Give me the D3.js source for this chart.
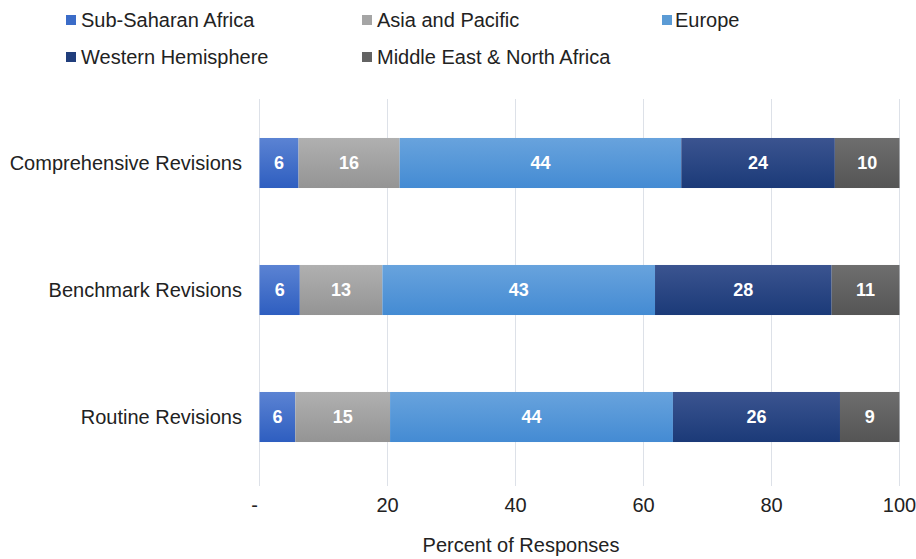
<!DOCTYPE html>
<html><head><meta charset="utf-8">
<script src="https://cdn.jsdelivr.net/npm/d3@7"></script>
<style>body{margin:0;background:#fff;}svg{display:block;font-family:"Liberation Sans",Arial,sans-serif;}</style>
</head><body><svg id="c" width="916" height="559"></svg>
<script>
const categories = ["Comprehensive Revisions","Benchmark Revisions","Routine Revisions"];
const seriesNames = ["Sub-Saharan Africa","Asia and Pacific","Europe","Western Hemisphere","Middle East & North Africa"];
const subSaharan = [6.1, 6.3, 5.6];
const asiaPacific = [15.8, 12.9, 14.8];
const europe = [44.0, 42.6, 44.2];
const westernHem = [24.0, 27.6, 26.1];
const mena = [10.1, 10.6, 9.3];
const xTicks = [0,20,40,60,80,100];
const xTickLabels = ["-","20","40","60","80","100"];
const colors = [["#5b83d3","#2e5ec0"],["#b0b0b0","#949494"],["#68a3dd","#448bd3"],["#3b5490","#1b3a78"],["#6e6e6e","#555555"]];
const legendColors = ["#3b6cc8","#a5a5a5","#5b9bd5","#213e7c","#636363"];

const seriesVals = [subSaharan, asiaPacific, europe, westernHem, mena];
const data = categories.map((c,i)=>{const o={cat:c}; seriesNames.forEach((s,j)=>o[s]=seriesVals[j][i]); return o;});

const svg = d3.select("#c");
const defs = svg.append("defs");
colors.forEach((c,i)=>{
  const g = defs.append("linearGradient").attr("id","g"+i).attr("x1",0).attr("x2",0).attr("y1",0).attr("y2",1);
  g.append("stop").attr("offset","0%").attr("stop-color",c[0]);
  g.append("stop").attr("offset","100%").attr("stop-color",c[1]);
});

const x = d3.scaleLinear().domain([0,100]).range([259.5,899.5]);
const y = d3.scaleBand().domain(categories).range([99.5,480.5]).paddingInner(0.606).paddingOuter(0.303);

// gridlines
svg.append("g").selectAll("line").data(xTicks).join("line")
  .attr("x1",d=>x(d)).attr("x2",d=>x(d)).attr("y1",99).attr("y2",486)
  .attr("stroke","#dde1e8").attr("stroke-width",1);

const stack = d3.stack().keys(seriesNames)(data);
const layers = svg.append("g").selectAll("g").data(stack).join("g")
  .attr("fill",(d,i)=>`url(#g${i})`);
layers.selectAll("rect").data(d=>d).join("rect")
  .attr("x",d=>x(d[0])).attr("width",d=>x(d[1])-x(d[0]))
  .attr("y",d=>y(d.data.cat)).attr("height",y.bandwidth());

const lab = svg.append("g").selectAll("g").data(stack).join("g");
lab.selectAll("text").data(d=>d).join("text")
  .attr("x",d=>(x(d[0])+x(d[1]))/2).attr("y",d=>y(d.data.cat)+y.bandwidth()/2)
  .attr("dy","0.36em").attr("text-anchor","middle").attr("fill","#fff")
  .attr("font-weight","bold").attr("font-size",18)
  .text(d=>d3.format(".0f")(d[1]-d[0]));

// category labels
svg.append("g").selectAll("text").data(categories).join("text")
  .attr("x",242).attr("y",d=>y(d)+y.bandwidth()/2).attr("dy","0.36em")
  .attr("text-anchor","end").attr("font-size",20).attr("fill","#222").text(d=>d);

// x ticks
svg.append("g").selectAll("text").data(xTicks).join("text")
  .attr("x",(d,i)=>x(d)-(i===0?5:0)).attr("y",505).attr("dy","0.36em")
  .attr("text-anchor","middle").attr("font-size",20).attr("fill","#222")
  .text((d,i)=>xTickLabels[i]);

svg.append("text").attr("x",521).attr("y",545).attr("dy","0.36em")
  .attr("text-anchor","middle").attr("font-size",20).attr("fill","#222").text("Percent of Responses");

// legend
const legPos = [[66,20],[362,20],[662,20],[66,57],[362,57]];
const leg = svg.append("g").selectAll("g").data(seriesNames).join("g")
  .attr("transform",(d,i)=>`translate(${legPos[i][0]},${legPos[i][1]})`);
leg.append("rect").attr("x",0).attr("y",-5).attr("width",10).attr("height",10).attr("fill",(d,i)=>legendColors[i]);
leg.append("text").attr("x",(d,i)=>i===2?13:15).attr("y",0).attr("dy","0.36em")
  .attr("font-size",20).attr("fill","#222").text(d=>d);
</script></body></html>
